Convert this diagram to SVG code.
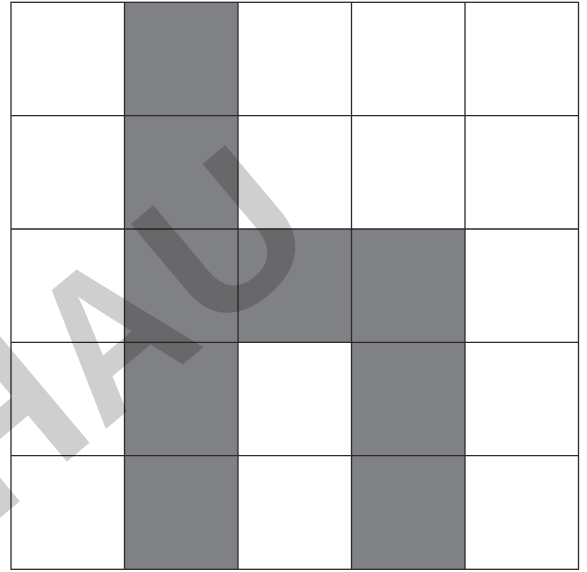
<svg xmlns="http://www.w3.org/2000/svg" width="587" height="572" viewBox="0 0 587 572">
<style>
.shade{fill:#808184;stroke:none}
.grid{stroke:#2b2b2b;stroke-width:1.3;fill:none}
.wm{font-family:"Liberation Sans",Arial,sans-serif;font-weight:bold;font-size:205px;fill:#000;fill-opacity:0.19}
</style>
<rect width="587" height="572" fill="#fff"/>
<g id="shaded">
<rect class="shade" x="124.5" y="2.3" width="113.5" height="567"/>
<rect class="shade" x="238" y="229" width="227" height="113.3"/>
<rect class="shade" x="351.5" y="229" width="113.5" height="340.3"/>
</g>
<g id="grid" class="grid">
<rect x="11" y="2.3" width="567.5" height="567"/>
<path d="M124.5 2.3V569.3M238 2.3V569.3M351.5 2.3V569.3M465 2.3V569.3M11 115.7H578.5M11 229H578.5M11 342.3H578.5M11 455.7H578.5"/>
</g>
<g id="watermark" transform="translate(0.5 517.4) rotate(-40)">
<text class="wm" x="-18" y="0">H</text>
<text class="wm" transform="scale(0.926 1)" x="143.6" y="0">A</text>
<text class="wm" x="276" y="0">U</text>
</g>
</svg>
